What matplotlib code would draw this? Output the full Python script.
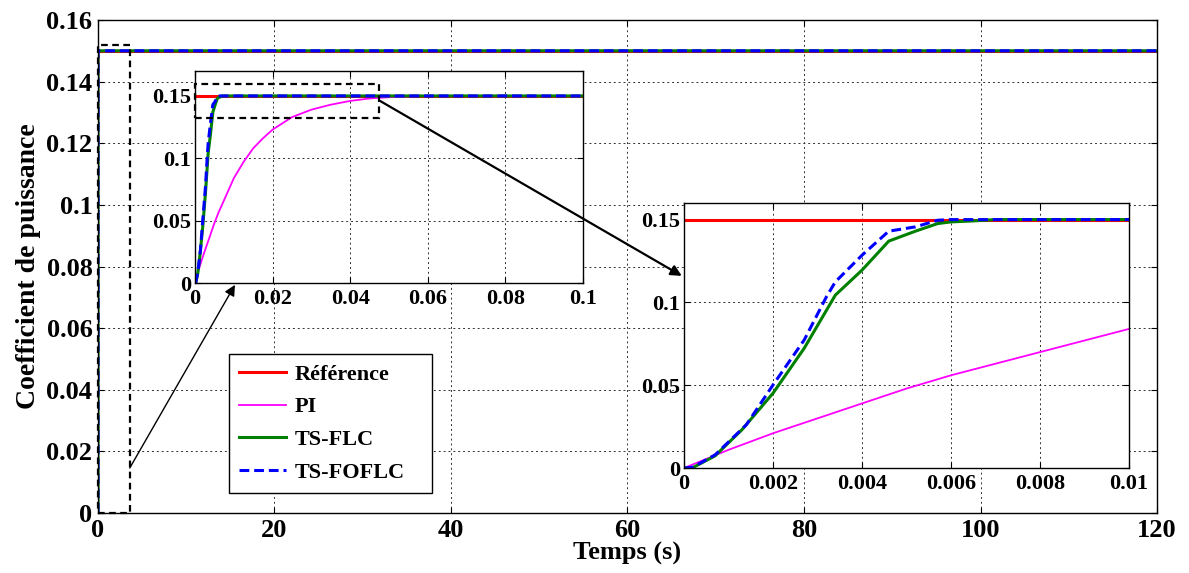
import matplotlib
matplotlib.use("Agg")
import matplotlib.pyplot as plt
from matplotlib.patches import Rectangle, ConnectionPatch

# ---- data -------------------------------------------------------------
ref_t = [0.0, 120.0]
ref_y = [0.15, 0.15]

pi_t = [0.0, 0.001, 0.002, 0.003, 0.004, 0.005, 0.006, 0.007, 0.008, 0.009,
        0.010, 0.0125, 0.015, 0.0175, 0.020, 0.025, 0.030, 0.035, 0.040,
        0.045, 0.050, 0.055, 0.060, 0.080, 120.0]
pi_y = [0.0, 0.011, 0.021, 0.030, 0.039, 0.048, 0.056, 0.063, 0.070, 0.077,
        0.084, 0.097, 0.108, 0.116, 0.123, 0.133, 0.139, 0.143, 0.146,
        0.148, 0.149, 0.1495, 0.150, 0.150, 0.150]

flc_t = [0.0, 0.0002, 0.0007, 0.0013, 0.0020, 0.0027, 0.0034, 0.0040,
         0.0046, 0.0052, 0.0057, 0.0060, 0.0065, 0.0070, 120.0]
flc_y = [0.0, 0.0003, 0.0074, 0.0231, 0.0452, 0.0723, 0.1044, 0.1195,
         0.1370, 0.1430, 0.1476, 0.1486, 0.1492, 0.1500, 0.1500]

fof_t = [0.0, 0.0002, 0.0007, 0.0014, 0.0020, 0.0027, 0.0032, 0.0034,
         0.0040, 0.0046, 0.0052, 0.0057, 0.0060, 120.0]
fof_y = [0.0, 0.0005, 0.0080, 0.0261, 0.0502, 0.0773, 0.1034, 0.1124,
         0.1285, 0.1430, 0.1456, 0.1496, 0.1500, 0.1500]

series_labels = ["Référence", "PI", "TS-FLC", "TS-FOFLC"]

main_xticks = [0, 20, 40, 60, 80, 100, 120]
main_yticks = [0, 0.02, 0.04, 0.06, 0.08, 0.1, 0.12, 0.14, 0.16]
zoom1_xticks = [0, 0.02, 0.04, 0.06, 0.08, 0.1]
zoom1_yticks = [0, 0.05, 0.1, 0.15]
zoom2_xticks = [0, 0.002, 0.004, 0.006, 0.008, 0.01]
zoom2_yticks = [0, 0.05, 0.1, 0.15]

# ---- style ------------------------------------------------------------
plt.rcParams["font.family"] = ["Liberation Serif", "DejaVu Serif"]
plt.rcParams["font.weight"] = "bold"

RED, MAG, GRN, BLU = "#ff0000", "#ff00ff", "#008000", "#0000ff"


def fmt(v):
    return f"{v:g}"


def style_axes(ax, xt, yt, fs, xpad=4, ypad=3):
    ax.set_xticks(xt)
    ax.set_yticks(yt)
    ax.set_xticklabels([fmt(v) for v in xt], fontsize=fs, fontweight="bold")
    ax.set_yticklabels([fmt(v) for v in yt], fontsize=fs, fontweight="bold")
    ax.tick_params(direction="in", length=4, width=0.8, top=True, right=True)
    ax.tick_params(axis="x", pad=xpad)
    ax.tick_params(axis="y", pad=ypad)
    ax.grid(True, color="#303030", linestyle=(0, (2, 3)), linewidth=0.7)
    for s in ax.spines.values():
        s.set_color("black")
        s.set_linewidth(1.0)


def draw_series(ax, lw=2.2):
    h1, = ax.plot(ref_t, ref_y, color=RED, lw=lw, label=series_labels[0])
    h2, = ax.plot(pi_t, pi_y, color=MAG, lw=1.3, label=series_labels[1])
    h3, = ax.plot(flc_t, flc_y, color=GRN, lw=lw, label=series_labels[2])
    h4, = ax.plot(fof_t, fof_y, color=BLU, lw=lw, ls=(0, (3.2, 1.6)),
                  label=series_labels[3])
    return [h1, h2, h3, h4]


fig = plt.figure(figsize=(11.89, 5.73), dpi=100)

# main axes
ax = fig.add_axes([0.0824, 0.1047, 0.8907, 0.8604])
handles = draw_series(ax)
ax.set_xlim(0, 120)
ax.set_ylim(0, 0.16)
style_axes(ax, main_xticks, main_yticks, 19, xpad=4, ypad=4)
ax.set_xlabel("Temps (s)", fontsize=19, fontweight="bold", labelpad=0)
ax.set_ylabel("Coefficient de puissance", fontsize=20, fontweight="bold",
              labelpad=4)
ax.add_patch(Rectangle((0, 0), 3.6, 0.152, fill=False, ec="black", lw=1.6,
                       ls=(0, (3, 2)), zorder=5, clip_on=False))

leg = ax.legend(handles=handles, loc="upper left", mode="expand",
                bbox_to_anchor=(0.1237, 0.0385, 0.1917, 0.284), fontsize=16,
                frameon=True, fancybox=False, edgecolor="black",
                framealpha=1, handlelength=2.1, labelspacing=0.55,
                borderpad=0.45, handletextpad=0.4, borderaxespad=0.0)
leg.get_frame().set_linewidth(1.0)
for t in leg.get_texts():
    t.set_fontweight("bold")

# first inset: 0 to 0.1 s
ax1 = fig.add_axes([0.1640, 0.5061, 0.3263, 0.3700])
draw_series(ax1)
ax1.set_xlim(0, 0.1)
ax1.set_ylim(0, 0.17)
style_axes(ax1, zoom1_xticks, zoom1_yticks, 16, xpad=4, ypad=3)
ax1.add_patch(Rectangle((0.0, 0.1325), 0.0474, 0.0271, fill=False,
                        ec="black", lw=1.6, ls=(0, (3, 2)), zorder=5,
                        clip_on=False))

# second inset: 0 to 0.01 s
ax2 = fig.add_axes([0.5753, 0.1832, 0.3743, 0.4625])
draw_series(ax2)
ax2.set_xlim(0, 0.01)
ax2.set_ylim(0, 0.16)
style_axes(ax2, zoom2_xticks, zoom2_yticks, 16, xpad=4, ypad=3)

# arrows linking the zoom boxes to their insets
arr1 = ConnectionPatch(xyA=(3.6, 0.0146), coordsA=ax.transData,
                       xyB=(0.0103, -0.0015), coordsB=ax1.transData,
                       arrowstyle="-|>", mutation_scale=16, lw=1.0,
                       color="black", zorder=10)
fig.add_artist(arr1)
arr2 = ConnectionPatch(xyA=(0.0477, 0.146), coordsA=ax1.transData,
                       xyB=(-0.00005, 0.116), coordsB=ax2.transData,
                       arrowstyle="-|>", mutation_scale=16, lw=1.6,
                       color="black", zorder=10)
fig.add_artist(arr2)

fig.savefig("out.png", dpi=100, facecolor="white")
